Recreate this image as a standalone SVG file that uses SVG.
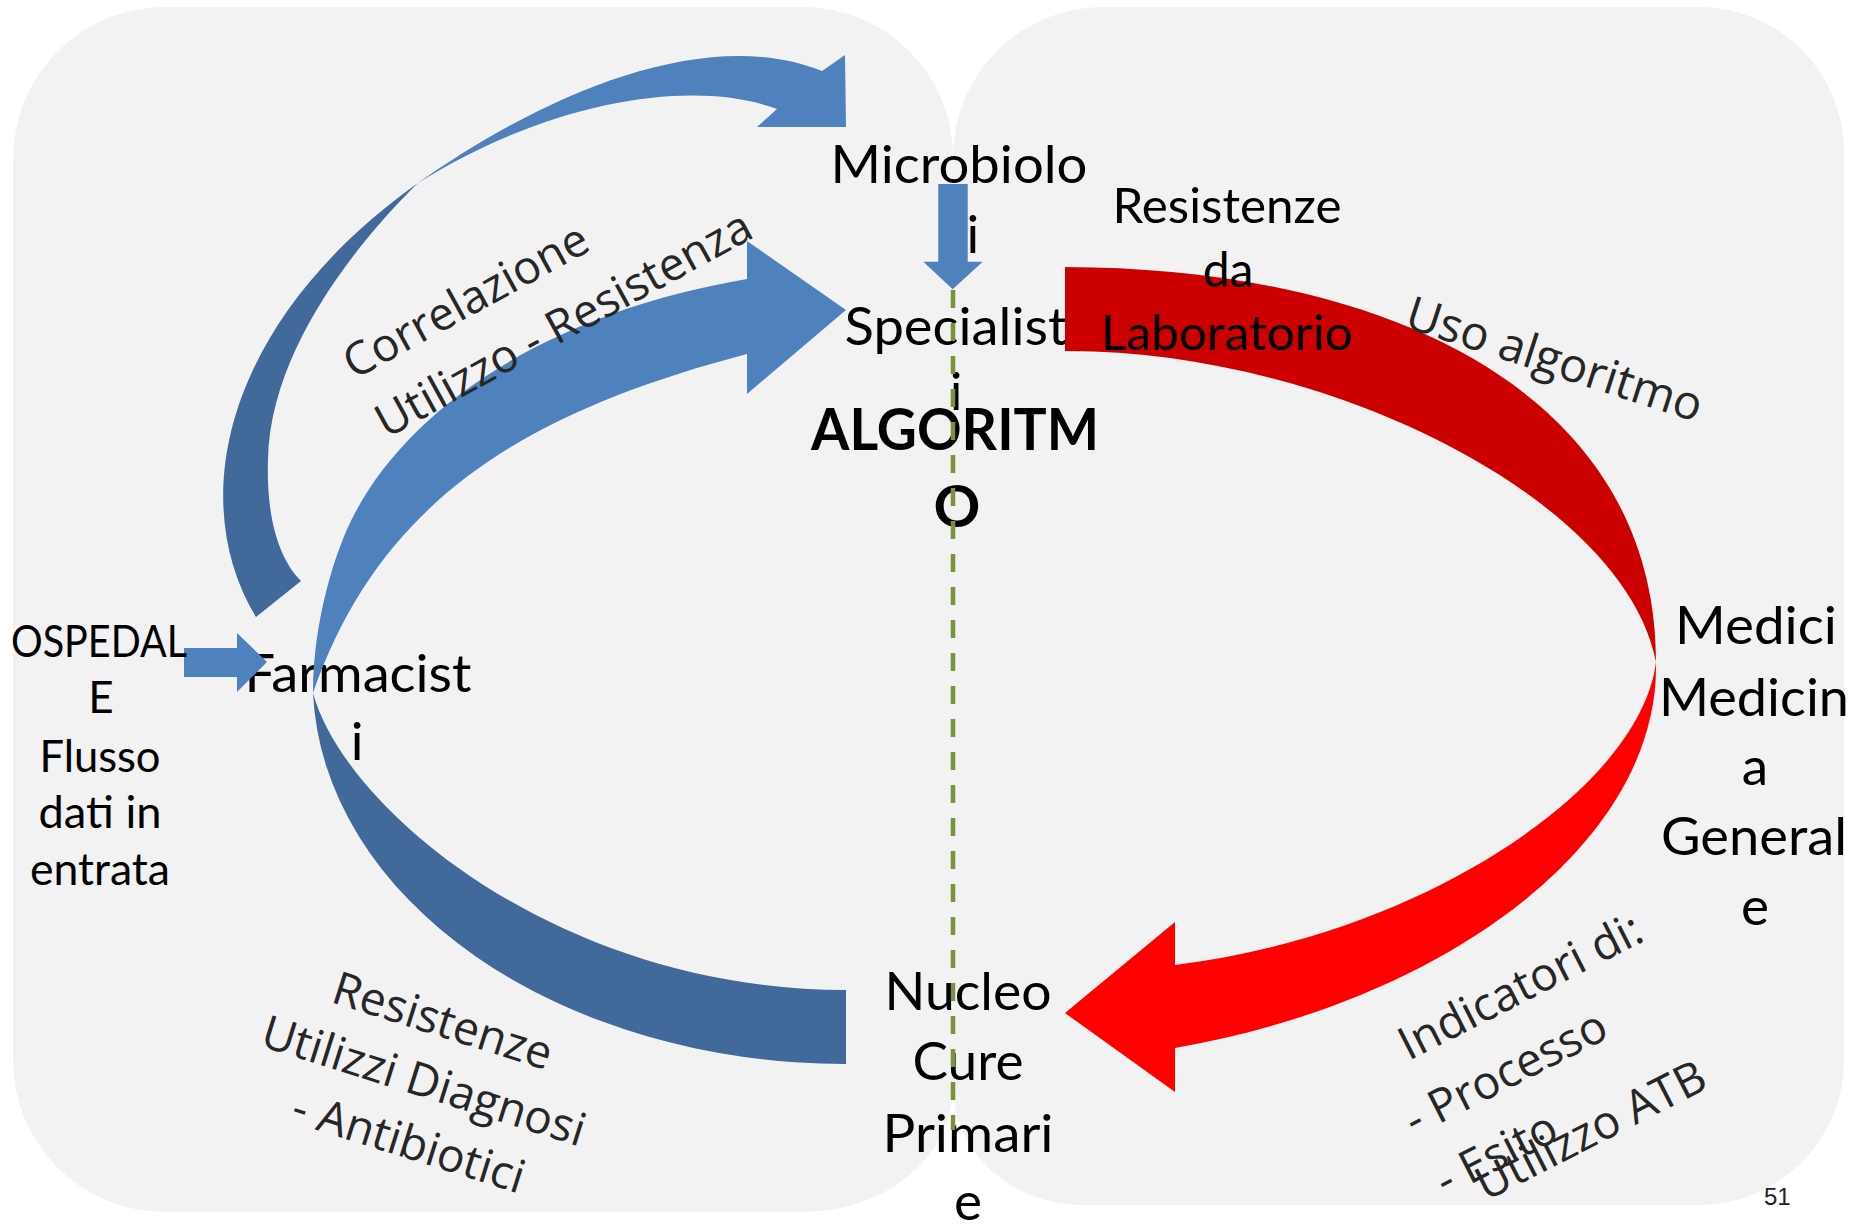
<svg xmlns="http://www.w3.org/2000/svg" width="1854" height="1225" viewBox="0 0 1854 1225">
<style>
  .panel{fill:#f2f2f2}
  .lt{fill:#4f81bd}
  .dk{fill:#41699a}
  .rd{fill:#cc0000}
  .rb{fill:#ff0000}
  .node{font-family:Lato,"Liberation Sans",sans-serif;font-size:53px;fill:#000;text-anchor:middle}
  .mid{font-size:48px}
  .sm{font-size:44px}
  .bold{font-weight:bold;font-size:58px}
  .lbl{font-family:"Open Sans","Noto Sans",sans-serif;font-size:46px;fill:#262626}
  .ctr{text-anchor:middle}
  .num{font-family:"Liberation Sans",Arial,sans-serif;font-size:24px;fill:#222}
  .divider{stroke:#77933c;stroke-width:4.5;stroke-dasharray:18 15;fill:none}
</style>
<rect width="1854" height="1225" fill="#ffffff"/>

<!-- two rounded background panels -->
<g id="panels">
  <path class="panel" d="M165,7 H803 A150,150 0 0 1 953,157 V1087 A150,125 0 0 1 803,1212 H165 A152,152 0 0 1 13,1060 V159 A152,152 0 0 1 165,7 Z"/>
  <path class="panel" d="M1103,7 H1699 A145,145 0 0 1 1844,152 V1060 A145,145 0 0 1 1699,1205 H1083 A130,118 0 0 1 953,1087 V157 A150,150 0 0 1 1103,7 Z"/>
</g>

<g id="node-specialisti">
  <text class="node" x="956" y="345" textLength="223" lengthAdjust="spacingAndGlyphs">Specialist</text>
  <text class="node" x="956" y="410">i</text>
</g>
<g id="node-microbiologi">
  <text class="node" x="959" y="183" textLength="257" lengthAdjust="spacingAndGlyphs">Microbiolo</text>
  <text class="node" x="959" y="253">gi</text>
</g>
<g id="node-farmacisti">
  <text class="node" x="358" y="692" textLength="227" lengthAdjust="spacingAndGlyphs">Farmacist</text>
  <text class="node" x="357" y="760">i</text>
</g>

<g id="connectors">
  <!-- Farmacisti -> Microbiologi (upper curved arrow) -->
  <path class="dk" d="M256,617 C185,500 225,320 418,183 C375,225 270,340 268,460 C266,520 280,560 301,581 Z"/>
  <path class="lt" d="M418,183 C548,91 708,25 822,71 L845,55 L846,127 L757,127 L777,109 C700,80 560,95 418,183 Z"/>
  <!-- Nucleo Cure Primarie -> Specialisti (large loop) -->
  <path class="dk" d="M313,693 A533,384 0 0 0 846,1064 L846,990 C560,990 345,810 313,693 Z"/>
  <path class="lt" d="M747,279 C547,313 411,407 355,513 C336,548 313,620 313,693 C380,500 526,412 747,354 L747,394 L846,310 L747,241 Z"/>
  <!-- Specialisti -> Medici -> Nucleo Cure Primarie (red loop) -->
  <path class="rd" d="M1065,267 C1400,268 1656,400 1656,662 C1625,500 1330,350 1065,351 Z"/>
  <path class="rb" d="M1656,662 C1660,840 1450,1000 1175,1048 L1175,1092 L1065,1013 L1175,922 L1175,965 C1420,935 1640,790 1656,662 Z"/>
  <!-- Microbiologi -> Specialisti -->
  <polygon class="lt" points="938.3,184 967.7,184 967.7,261.7 982.7,261.7 952.7,289.3 923.3,261.7 938.3,261.7"/>
  <!-- Ospedale -> Farmacisti -->
  <polygon class="lt" points="184,648 237,648 237,633 267,662 237,692 237,677 184,677"/>
</g>

<g id="node-algoritmo">
  <text class="node bold" x="955" y="450" textLength="288" lengthAdjust="spacingAndGlyphs">ALGORITM</text>
  <text class="node bold" x="957" y="527">O</text>
</g>
<g id="node-medici">
  <text class="node" x="1756" y="644" textLength="162" lengthAdjust="spacingAndGlyphs">Medici</text>
  <text class="node" x="1754" y="716" textLength="190" lengthAdjust="spacingAndGlyphs">Medicin</text>
  <text class="node" x="1755" y="785">a</text>
  <text class="node" x="1754" y="855" textLength="186" lengthAdjust="spacingAndGlyphs">General</text>
  <text class="node" x="1755" y="925">e</text>
</g>
<g id="node-ospedale">
  <text class="node sm" x="99" y="657" textLength="176" lengthAdjust="spacingAndGlyphs">OSPEDAL</text>
  <text class="node sm" x="101" y="713">E</text>
  <text class="node sm" x="100" y="772" textLength="121" lengthAdjust="spacingAndGlyphs">Flusso</text>
  <text class="node sm" x="100" y="828" textLength="123" lengthAdjust="spacingAndGlyphs">dati in</text>
  <text class="node sm" x="100" y="885" textLength="140" lengthAdjust="spacingAndGlyphs">entrata</text>
</g>
<g id="node-nucleo">
  <text class="node" x="968" y="1010" textLength="167" lengthAdjust="spacingAndGlyphs">Nucleo</text>
  <text class="node" x="968" y="1080" textLength="111" lengthAdjust="spacingAndGlyphs">Cure</text>
  <text class="node" x="968" y="1152" textLength="171" lengthAdjust="spacingAndGlyphs">Primari</text>
  <text class="node" x="968" y="1220">e</text>
</g>

<!-- connector labels -->
<g id="labels">
  <g class="node mid">
    <text x="1227" y="223" textLength="229" lengthAdjust="spacingAndGlyphs">Resistenze</text>
    <text x="1228" y="287">da</text>
    <text x="1227" y="350" textLength="252" lengthAdjust="spacingAndGlyphs">Laboratorio</text>
  </g>
  <g class="lbl" transform="translate(354,380) rotate(-28.7)">
    <text x="0" y="0">Correlazione</text>
    <text x="0" y="67">Utilizzo - Resistenza</text>
  </g>
  <g class="lbl" style="font-size:47px" transform="translate(1403,327) rotate(18)">
    <text x="0" y="0">Uso algoritmo</text>
  </g>
  <g class="lbl ctr" transform="translate(438,1036) rotate(17.5)">
    <text x="0" y="0">Resistenze</text>
    <text x="0" y="63">Utilizzi Diagnosi</text>
    <text x="4" y="126">- Antibiotici</text>
  </g>
  <g class="lbl" transform="translate(1397,1067) rotate(-27)">
    <text x="13" y="0">Indicatori di:</text>
    <text x="-16" y="70">- Processo</text>
    <text x="-16" y="138">- Esito</text>
    <text x="18" y="160">Utilizzo ATB</text>
  </g>
  <text class="num" x="1764" y="1205">51</text>
</g>

<g id="divider">
  <line class="divider" x1="953" y1="290" x2="953" y2="1130"/>
</g>
</svg>
